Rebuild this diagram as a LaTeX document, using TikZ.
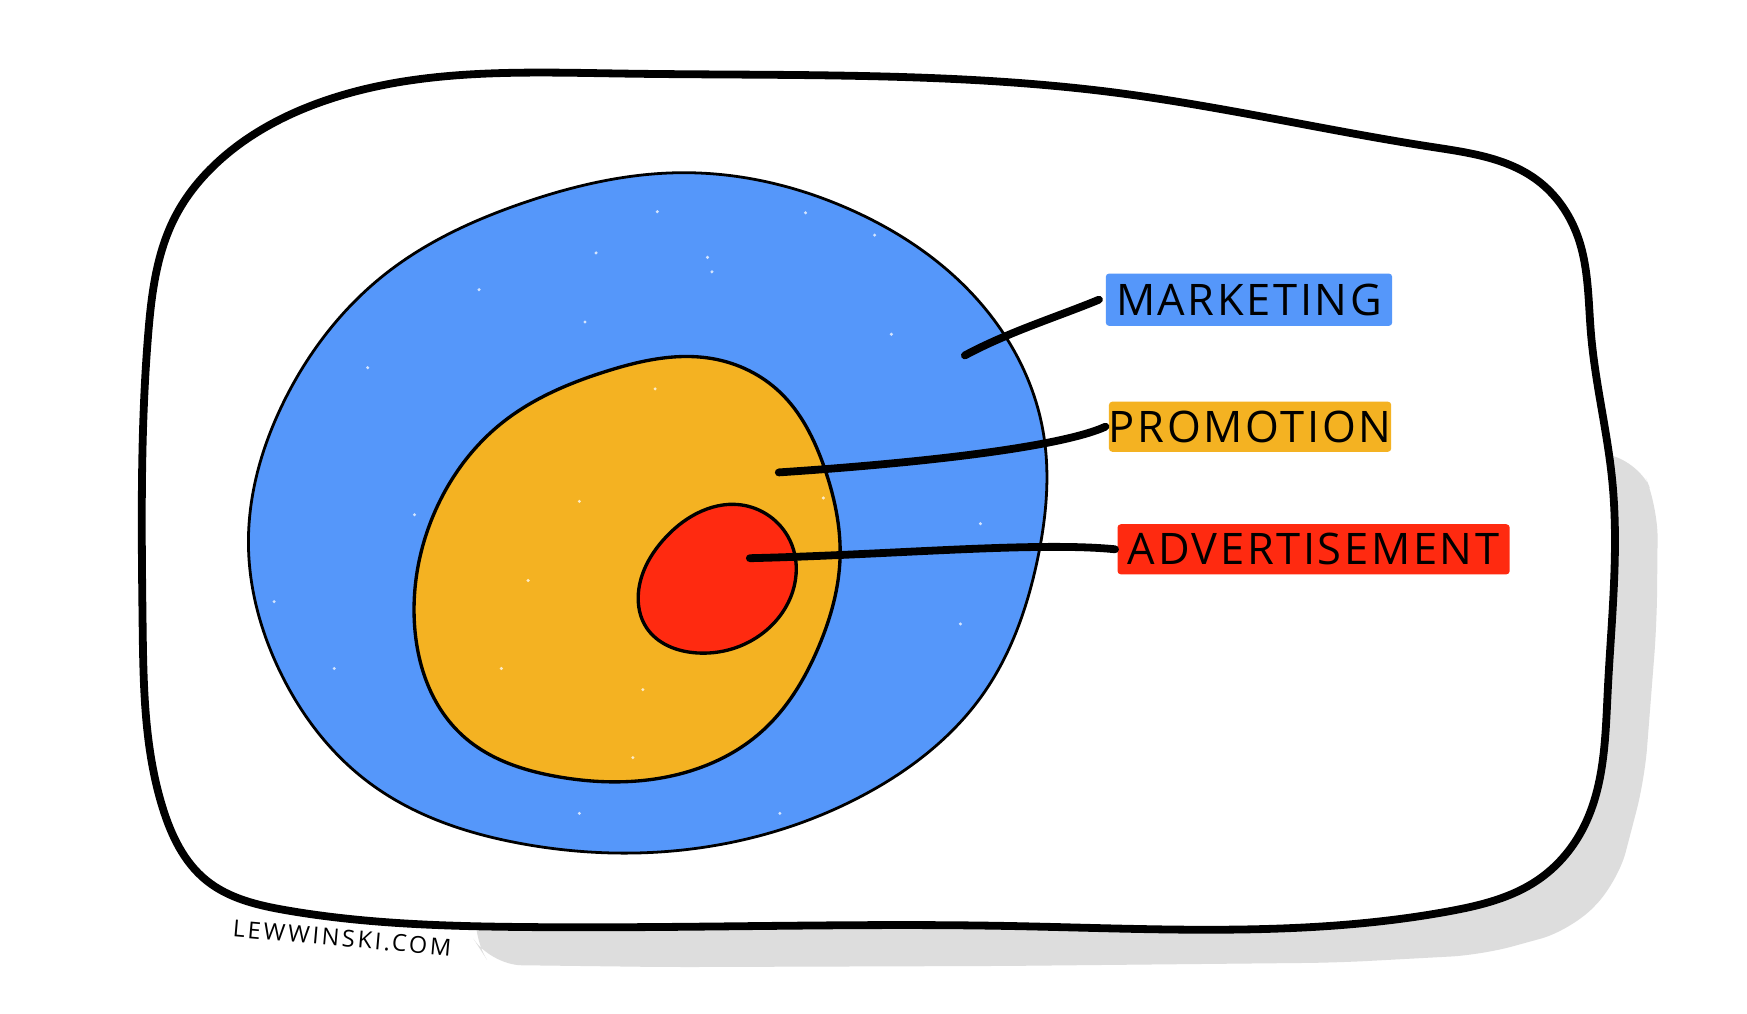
\documentclass[tikz,border=0pt]{standalone}
\usepackage{fontspec}
\setmainfont{Open Sans}
\usetikzlibrary{hobby}
\definecolor{mblue}{HTML}{5597FA}
\definecolor{morange}{HTML}{F4B222}
\definecolor{mred}{HTML}{FF2A10}
\definecolor{shadowgray}{HTML}{DDDDDD}
\begin{document}
\begin{tikzpicture}[x=1pt,y=-1pt,
  outline/.style={draw=black,line width=7pt,line join=round},
  blobline/.style={draw=black,line width=3pt,line join=round},
  conn/.style={draw=black,line width=7pt,line cap=round},
  speck/.style={fill=white,opacity=0.75},
  lab/.style={rounded corners=3pt,inner sep=0pt,text=black,
    font=\fontsize{39}{39}\selectfont\addfontfeature{LetterSpace=6}},
  wmark/.style={text=black,inner sep=0pt,
    font=\fontsize{21}{21}\selectfont\addfontfeature{LetterSpace=12}}]
\useasboundingbox[fill=white] (0,0) rectangle (1568,910);
% shadow
\fill[shadowgray,rounded corners=28pt] (430,800) -- (1420,405) -- (1470,412) -- (1488,455)
  -- (1487,560) -- (1476,700) -- (1452,792) -- (1410,835) -- (1330,857)
  -- (1200,864) -- (900,867) -- (600,868) -- (440,866) -- (422,838) -- cycle;
% outer frame
\path[outline,fill=white] plot[closed hobby] coordinates {
  (197,144) (287,92) (557,66) (1000,83) (1286,132) (1380,162) (1416,212)
  (1428,300) (1447,431) (1443,620) (1420,745) (1380,790) (1300,818) (900,831)
  (467,832) (257,817) (185,790) (146,725) (128,560) (133,300) (157,195)};
% marketing ellipse
\path[fill=mblue,draw=black,line width=2.5pt] plot[closed hobby] coordinates {
  (613,155) (763,188) (880,272) (936,386) (931,503) (883,622) (778,712)
  (628,761) (467,757) (332,703) (250,600) (223,490) (255,360) (347,245) (470,182)};
% specks in blue
\foreach \p in {(535,227),(525,289),(635,231),(639,244),(785,211),(723,191),
  (330,330),(372,462),(520,730),(800,300),(862,560),(246,540),(430,260),
  (590,190),(880,470),(300,600),(700,730)}
  \fill[speck] \p circle (1.5pt);
% promotion blob
\path[fill=morange,blobline] plot[closed hobby] coordinates {
  (640,322) (700,352) (740,420) (754,500) (735,580) (682,658) (600,697)
  (500,697) (415,660) (372,560) (390,460) (450,380) (545,333)};
% specks in orange
\foreach \p in {(474,521),(577,619),(568,680),(739,447),(588,349),(450,600),(520,450)}
  \fill[speck] \p circle (1.5pt);
% advertisement blob
\path[fill=mred,blobline] plot[closed hobby] coordinates {
  (664,453) (709,485) (714,520) (685,568) (625,586) (580,563) (573,532)
  (595,485) (625,461)};
% labels
\node[lab,fill=mblue,minimum width=257pt,minimum height=47pt] (mk) at (1121,269) {MARKETING};
\node[lab,fill=morange,minimum width=250pt,minimum height=45pt] (pr) at (1122,383) {PROMOTION};
\node[lab,fill=mred,minimum width=352pt,minimum height=45pt] (ad) at (1179,493) {ADVERTISEMENT};
% connectors
\coordinate (mkin) at (866,319);
\coordinate (prin) at (699,424);
\coordinate (adin) at (673,501);
\draw[conn] (mkin) .. controls (905,298) and (950,284) .. ([xshift=-6pt]mk.west);
\draw[conn] (prin) .. controls (820,416) and (950,402) .. ([xshift=-3pt]pr.west);
\draw[conn] (adin) .. controls (800,498) and (930,486) .. ([xshift=-2pt]ad.west);
% watermark
\node[wmark,rotate=-5] (wm) at (307,842) {LEWWINSKI.COM};
\end{tikzpicture}
\end{document}
